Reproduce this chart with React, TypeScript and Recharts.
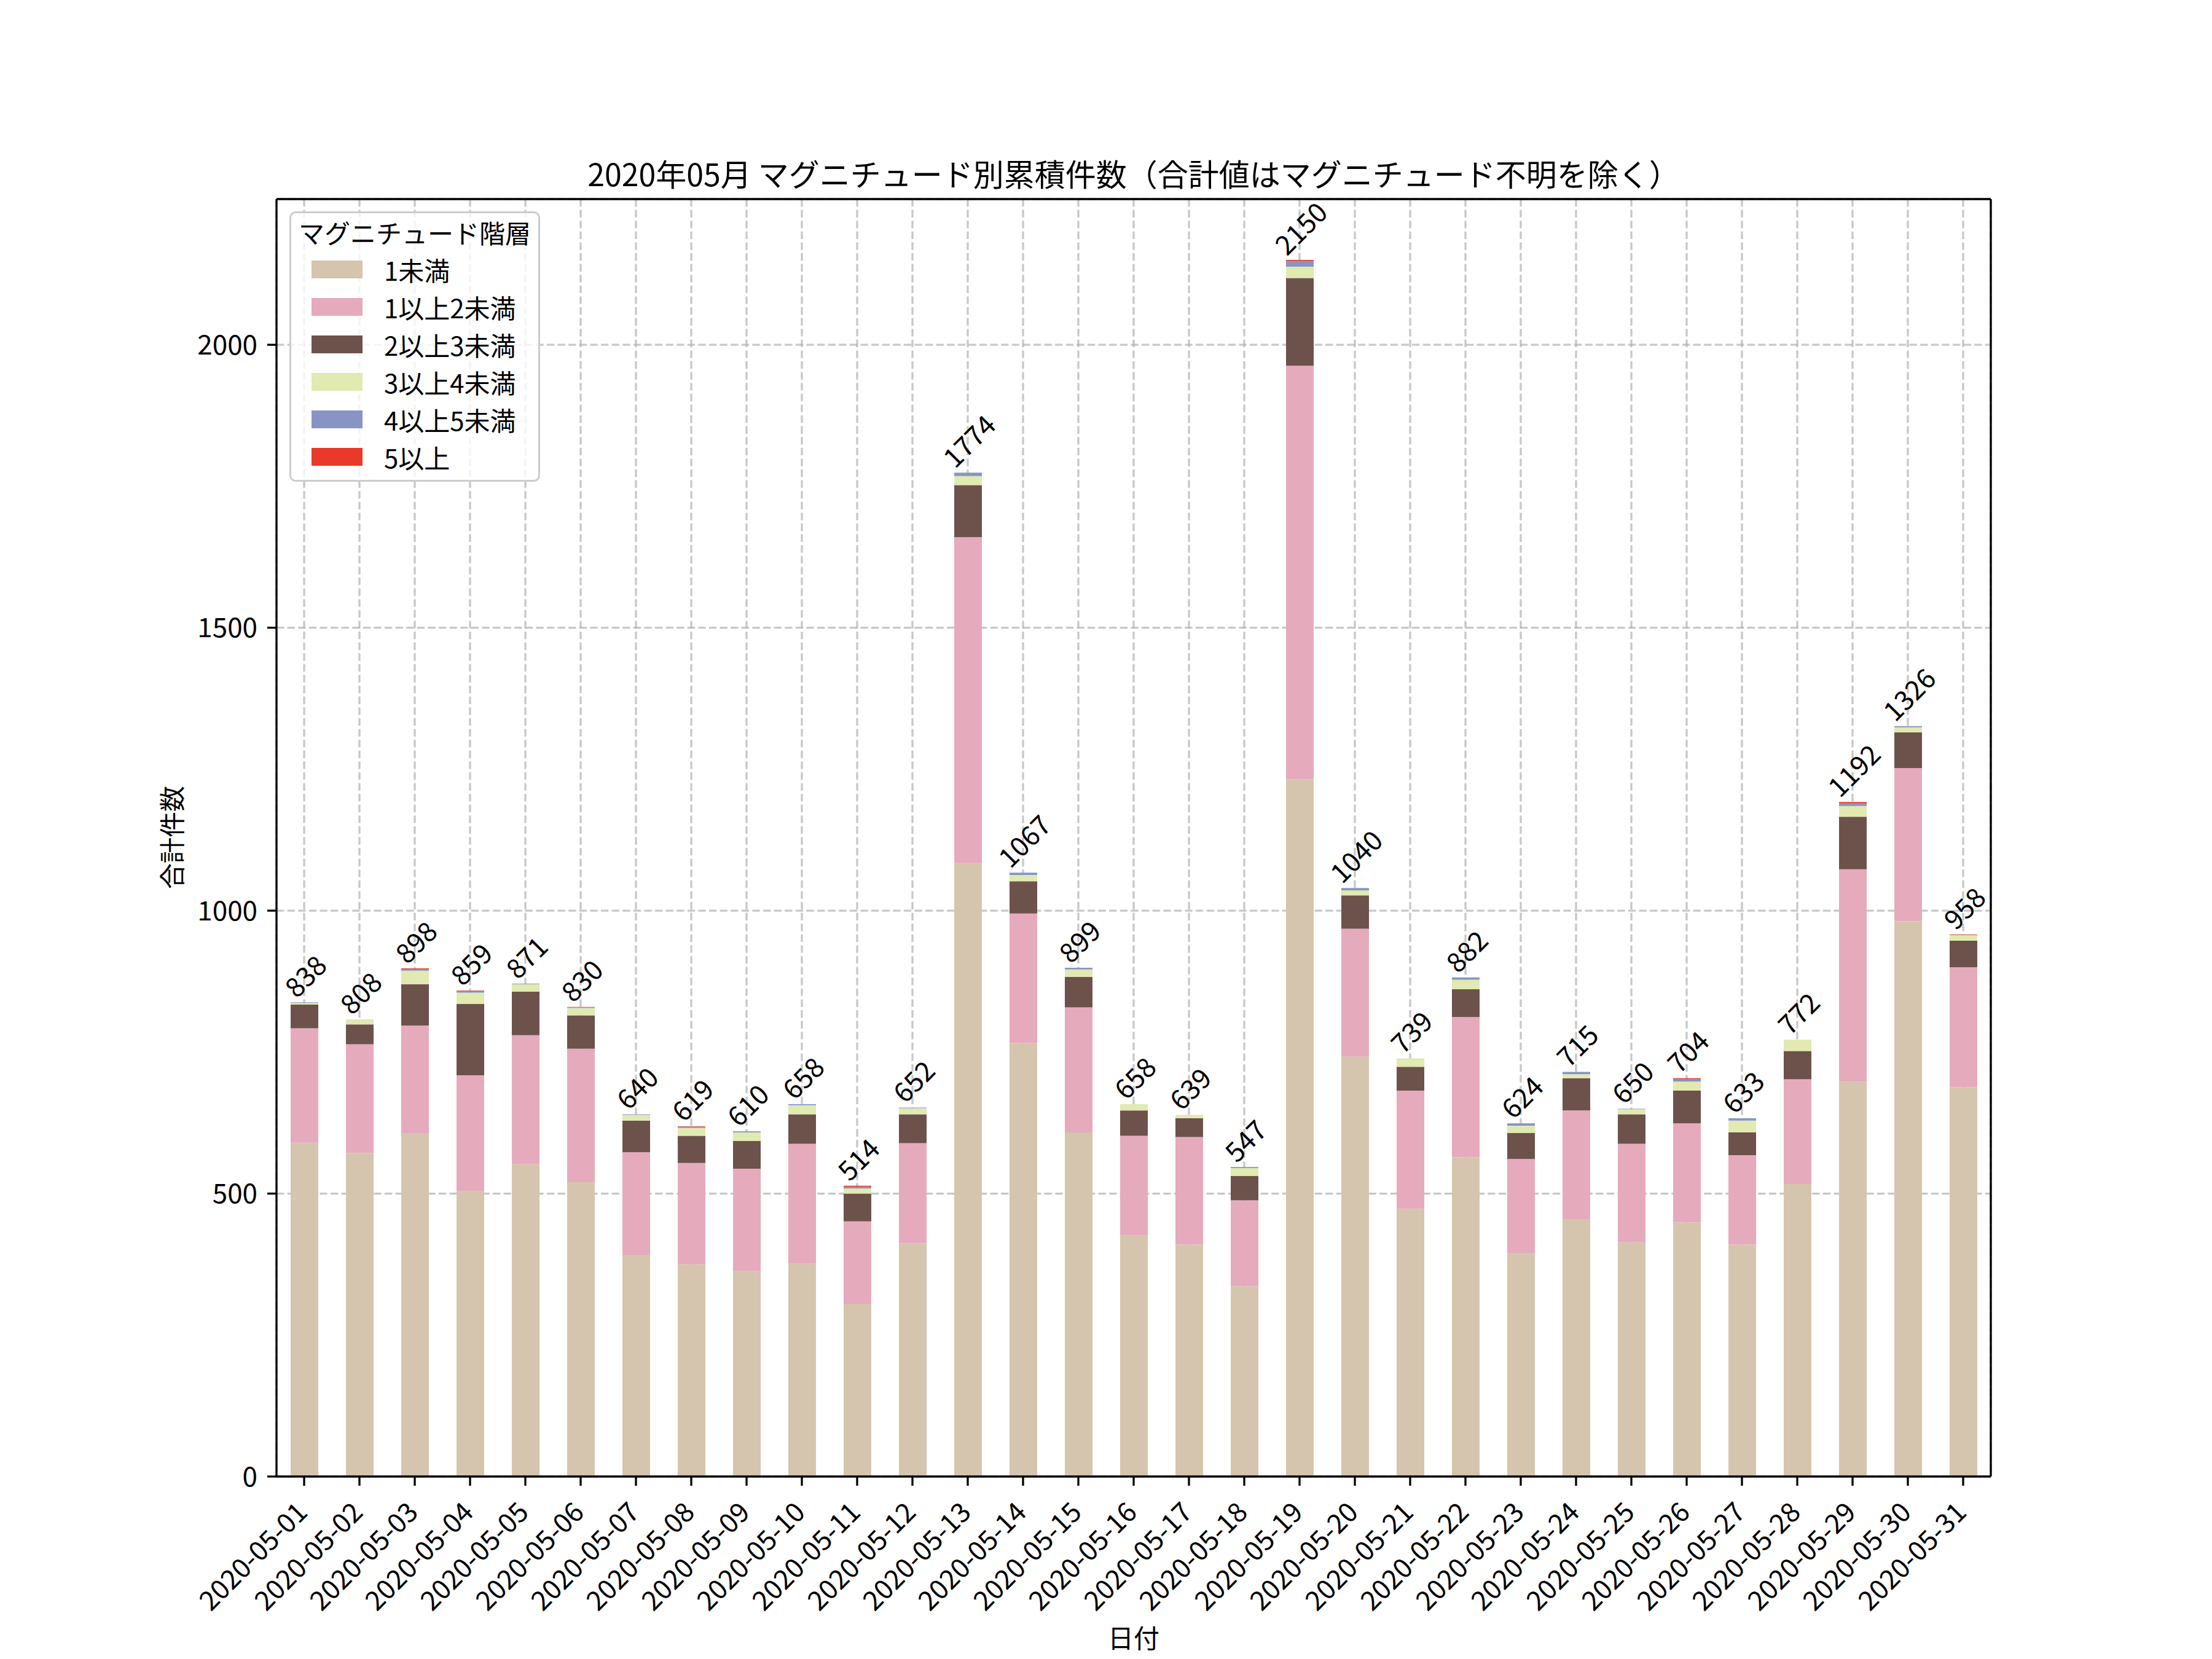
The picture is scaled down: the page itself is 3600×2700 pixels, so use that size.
import React from "react";
import { BarChart, Bar, XAxis, YAxis, CartesianGrid, LabelList } from "recharts";

document.body.style.margin = "0";

const FONT = '"Noto Sans CJK JP", "Noto Sans", sans-serif';

const dates = [
  "2020-05-01", "2020-05-02", "2020-05-03", "2020-05-04", "2020-05-05", "2020-05-06",
  "2020-05-07", "2020-05-08", "2020-05-09", "2020-05-10", "2020-05-11", "2020-05-12",
  "2020-05-13", "2020-05-14", "2020-05-15", "2020-05-16", "2020-05-17", "2020-05-18",
  "2020-05-19", "2020-05-20", "2020-05-21", "2020-05-22", "2020-05-23", "2020-05-24",
  "2020-05-25", "2020-05-26", "2020-05-27", "2020-05-28", "2020-05-29", "2020-05-30",
  "2020-05-31",
];

// magnitude bands, bottom of the stack first
const under1 = [590, 572, 607, 504, 552, 520, 390, 375, 363, 376, 305, 412, 1084, 766, 608, 426, 410, 336, 1232, 742, 473, 564, 394, 455, 414, 449, 410, 517, 698, 981, 688];
const m1to2 = [202, 192, 190, 205, 228, 236, 183, 179, 181, 212, 146, 177, 576, 229, 221, 176, 190, 152, 731, 226, 209, 248, 167, 192, 174, 175, 158, 185, 375, 271, 212];
const m2to3 = [42, 35, 73, 126, 77, 59, 56, 48, 49, 52, 49, 51, 92, 57, 54, 45, 33, 43, 155, 59, 42, 49, 46, 57, 52, 58, 40, 50, 93, 63, 47];
const m3to4 = [3, 9, 24, 20, 13, 13, 10, 14, 15, 16, 9, 11, 16, 11, 13, 11, 6, 14, 20, 9, 15, 17, 13, 7, 9, 16, 21, 20, 19, 9, 10];
const m4to5 = [1, 0, 3, 3, 1, 1, 1, 2, 2, 2, 3, 1, 6, 4, 3, 0, 0, 2, 10, 4, 0, 4, 4, 4, 1, 4, 4, 0, 5, 2, 0];
const m5up = [0, 0, 1, 1, 0, 1, 0, 1, 0, 0, 2, 0, 0, 0, 0, 0, 0, 0, 2, 0, 0, 0, 0, 0, 0, 2, 0, 0, 2, 0, 1];

const yTicks = [0, 500, 1000, 1500, 2000];

const series = [
  { key: "under1", name: "1未満", color: "#d5c5ae", values: under1 },
  { key: "m1to2", name: "1以上2未満", color: "#e5abbd", values: m1to2 },
  { key: "m2to3", name: "2以上3未満", color: "#6d524b", values: m2to3 },
  { key: "m3to4", name: "3以上4未満", color: "#e0eab1", values: m3to4 },
  { key: "m4to5", name: "4以上5未満", color: "#8794c4", values: m4to5 },
  { key: "m5up", name: "5以上", color: "#e8392a", values: m5up },
];

const data = dates.map((date, i) => {
  const row: any = { date };
  let total = 0;
  let top = series[0].key;
  series.forEach((s) => {
    row[s.key] = s.values[i];
    total += s.values[i];
    if (s.values[i] > 0) top = s.key;
  });
  row.total = total;
  row.topKey = top; // highest non-empty band carries the total label
  return row;
});

const XTick = (props: any) => {
  const x = Number(props.x) + 8;
  const y = Number(props.y) + 46;
  return (
    <text x={x} y={y} textAnchor="end" fontSize={44} fontFamily={FONT} fill="#000"
      transform={`rotate(-45 ${x} ${y})`}>
      {props.payload.value}
    </text>
  );
};

const TotalLabel = (props: any) => {
  if (props.value == null || props.value === "") return null;
  const cx = Number(props.x) + Number(props.width) / 2;
  const n = String(props.value).length;
  const cy = Number(props.y) - (8 + (n * 25 + 28) / 2.83);
  return (
    <text x={cx} y={cy} textAnchor="middle" dominantBaseline="central" fontSize={44}
      fontFamily={FONT} fill="#000" transform={`rotate(-45 ${cx} ${cy})`}>
      {props.value}
    </text>
  );
};

export default function App() {
  return (
    <div style={{ position: "relative", width: 3600, height: 2700, background: "#fff" }}>
      <BarChart width={3600} height={2700} data={data}
        margin={{ top: 324, right: 360, bottom: 47, left: 350 }}>
        <XAxis dataKey="date" interval={0} height={250} tickSize={15} tickMargin={0}
          tick={<XTick />}
          axisLine={{ stroke: "#000", strokeWidth: 3.3 }}
          tickLine={{ stroke: "#000", strokeWidth: 3.3 }} />
        <YAxis domain={[0, 2257.5]} ticks={yTicks} width={100} tickSize={15} tickMargin={16}
          tick={{ fill: "#000", fontSize: 44, fontFamily: FONT }}
          axisLine={{ stroke: "#000", strokeWidth: 3.3 }}
          tickLine={{ stroke: "#000", strokeWidth: 3.3 }} />
        {series.map((s) => (
          <Bar key={s.key} dataKey={s.key} name={s.name} stackId="a" fill={s.color}
            barSize={45} isAnimationActive={false}>
            <LabelList
              dataKey={(row: any) => (row.topKey === s.key ? row.total : null)}
              content={<TotalLabel />} />
          </Bar>
        ))}
        <CartesianGrid stroke="#b0b0b0" strokeOpacity={0.7} strokeWidth={3.3}
          strokeDasharray="12.3 5.3" />
      </BarChart>

      <svg width={3600} height={2700} style={{ position: "absolute", left: 0, top: 0, pointerEvents: "none" }}>
        <line x1={450} y1={324} x2={3240} y2={324} stroke="#000" strokeWidth={3.3} />
        <line x1={3240} y1={324} x2={3240} y2={2403} stroke="#000" strokeWidth={3.3} />
        <text x={1845} y={281} textAnchor="middle" dominantBaseline="central" fontSize={50}
          fontFamily={FONT} fill="#000">
          2020年05月 マグニチュード別累積件数（合計値はマグニチュード不明を除く）
        </text>
        <text x={1845} y={2663} textAnchor="middle" dominantBaseline="central" fontSize={42}
          fontFamily={FONT} fill="#000">日付</text>
        <text x={277} y={1363} textAnchor="middle" dominantBaseline="central" fontSize={42}
          fontFamily={FONT} fill="#000" transform="rotate(-90 277 1363)">合計件数</text>
      </svg>

      <div style={{
        position: "absolute", left: 471, top: 344, width: 408, height: 440, boxSizing: "border-box",
        border: "3px solid #cccccc", borderRadius: 10, background: "rgba(255,255,255,0.8)",
        fontFamily: FONT, fontSize: 42, color: "#000",
      }}>
        <div style={{ height: 61, lineHeight: "61px", textAlign: "center" }}>マグニチュード階層</div>
        {series.map((s) => (
          <div key={s.key} style={{ height: 61, display: "flex", alignItems: "center" }}>
            <div style={{ width: 83, height: 29, marginLeft: 33, marginRight: 35, background: s.color }} />
            <span>{s.name}</span>
          </div>
        ))}
      </div>
    </div>
  );
}
